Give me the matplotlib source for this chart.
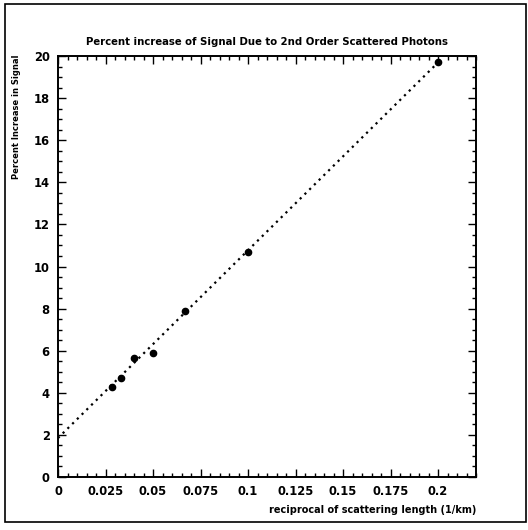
import matplotlib
matplotlib.use("Agg")
import matplotlib.pyplot as plt
from matplotlib.ticker import MultipleLocator, FixedLocator
from matplotlib.patches import Rectangle
import numpy as np

# Data
recip_length = [0.0286, 0.0333, 0.0400, 0.0500, 0.0667, 0.1000, 0.2000]
pct_increase = [4.28, 4.70, 5.65, 5.89, 7.89, 10.69, 19.71]
fit_intercept = 1.85
fit_slope = 89.2
fit_xrange = [0.0, 0.202]
xtick_vals = [0, 0.025, 0.05, 0.075, 0.1, 0.125, 0.15, 0.175, 0.2]
xtick_labels = ["0", "0.025", "0.05", "0.075", "0.1", "0.125", "0.15", "0.175", "0.2"]
ytick_vals = [0, 2, 4, 6, 8, 10, 12, 14, 16, 18, 20]

fig = plt.figure(figsize=(5.28, 5.30), dpi=100)
ax = fig.add_axes([58/528, 1-477/530, (476-58)/528, (477-56)/530])

fx = np.array(fit_xrange)
ax.plot(fx, fit_intercept + fit_slope*fx, color="black", linestyle=(0, (1, 2)), linewidth=1.6)
ax.plot(recip_length, pct_increase, "o", color="black", markersize=4.5)

ax.set_xlim(0, 0.22)
ax.set_ylim(0, 20)
ax.xaxis.set_major_locator(FixedLocator(xtick_vals))
ax.set_xticklabels(xtick_labels)
ax.xaxis.set_minor_locator(MultipleLocator(0.005))
ax.yaxis.set_major_locator(FixedLocator(ytick_vals))
ax.yaxis.set_minor_locator(MultipleLocator(0.5))
ax.tick_params(which="both", direction="in", top=True, right=True, width=1.0)
ax.tick_params(which="major", length=6, labelsize=8.3, pad=6)
ax.tick_params(which="minor", length=3)
for lab in ax.get_xticklabels() + ax.get_yticklabels():
    lab.set_fontweight("bold")
for s in ax.spines.values():
    s.set_linewidth(1.4)

ax.set_title("Percent increase of Signal Due to 2nd Order Scattered Photons",
             fontsize=7.3, fontweight="bold", pad=8)
ax.set_xlabel("reciprocal of scattering length (1/km)", fontsize=7, fontweight="bold",
              loc="right", labelpad=5)
ax.set_ylabel("Percent Increase in Signal", fontsize=6, fontweight="bold",
              loc="top")
ax.yaxis.set_label_coords(-37/418, 1.003)

fig.patches.append(Rectangle((5/528, 1-522/530), 521/528, 518/530, transform=fig.transFigure,
                             fill=False, edgecolor="black", linewidth=1.2))

fig.savefig("out.png", dpi=100)
